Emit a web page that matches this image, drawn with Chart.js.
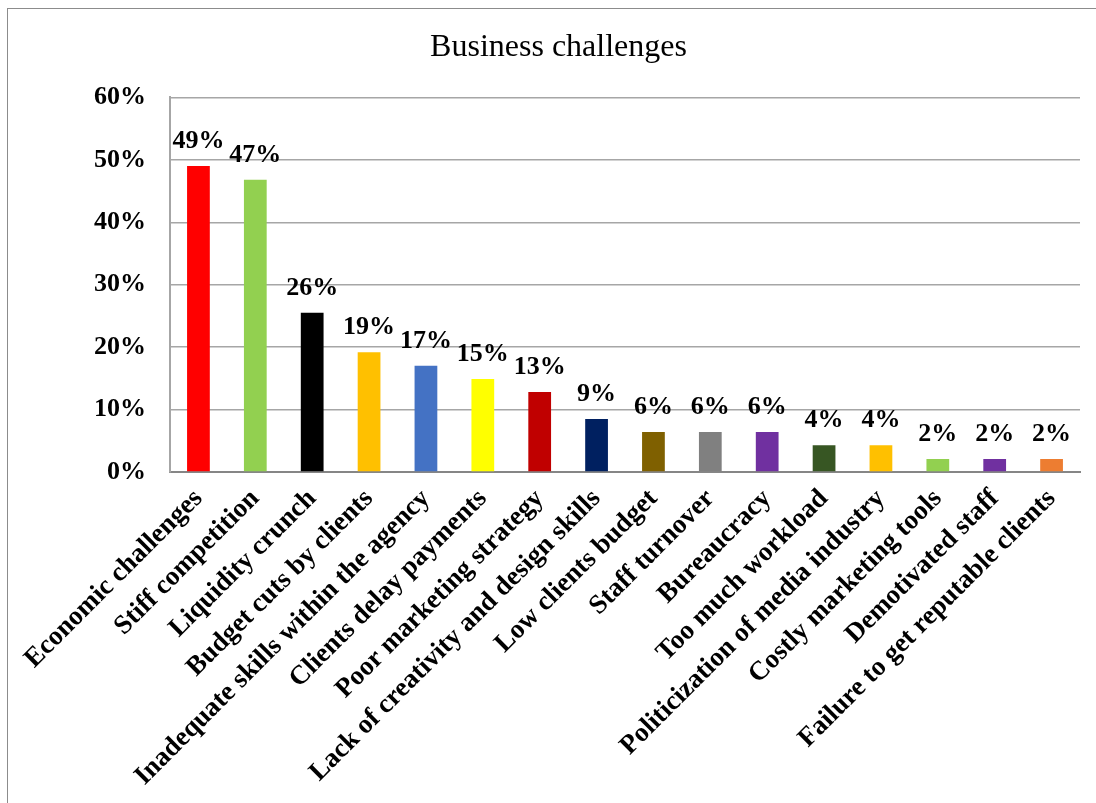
<!DOCTYPE html>
<html>
<head>
<meta charset="utf-8">
<script src="https://cdn.jsdelivr.net/npm/chart.js@4.4.1/dist/chart.umd.min.js"></script>
<style>
  html, body { margin: 0; padding: 0; background: #fff; overflow: hidden; width: 1096px; height: 803px; }
  #frame { position: absolute; left: 7px; top: 8px; width: 1103px; height: 795px; border-top: 1px solid #8c8c8c; border-left: 1px solid #8c8c8c; box-sizing: border-box; }
  #wrap { position: absolute; left: 7px; top: 8px; width: 1103px; height: 795px; }
</style>
</head>
<body>
<div id="frame"></div>
<div id="wrap"><canvas id="c" width="1103" height="795"></canvas></div>
<script>
const categories = [
  "Economic challenges", "Stiff competition", "Liquidity crunch", "Budget cuts by clients",
  "Inadequate skills within the agency", "Clients delay payments", "Poor marketing strategy",
  "Lack of creativity and design skills", "Low clients budget", "Staff turnover", "Bureaucracy",
  "Too much workload", "Politicization of media industry", "Costly marketing tools",
  "Demotivated staff", "Failure to get reputable clients"
];
const values = [49.0, 46.8, 25.5, 19.2, 17.0, 14.9, 12.8, 8.5, 6.4, 6.4, 6.4, 4.3, 4.3, 2.1, 2.1, 2.1];
const barColors = [
  "#FF0000", "#92D050", "#000000", "#FFC000", "#4472C4", "#FFFF00", "#C00000", "#002060",
  "#7F6000", "#808080", "#7030A0", "#375623", "#FFC000", "#92D050", "#7030A0", "#ED7D31"
];
const yTicks = [0, 10, 20, 30, 40, 50, 60];
const titleText = "Business challenges";

const SERIF = "'Liberation Serif', 'Times New Roman', serif";

const dataLabels = {
  id: 'dataLabels',
  afterDatasetsDraw(chart) {
    const ctx = chart.ctx;
    const meta = chart.getDatasetMeta(0);
    ctx.save();
    ctx.font = "bold 26px " + SERIF;
    ctx.fillStyle = "#000";
    ctx.textAlign = "center";
    ctx.textBaseline = "alphabetic";
    meta.data.forEach((bar, i) => {
      ctx.fillText(Math.round(values[i]) + "%", bar.x, bar.y - 18);
    });
    ctx.restore();
  }
};

new Chart(document.getElementById('c'), {
  type: 'bar',
  data: {
    labels: categories,
    datasets: [{
      data: values,
      backgroundColor: barColors,
      borderWidth: 0,
      barPercentage: 0.4,
      categoryPercentage: 1.0
    }]
  },
  options: {
    responsive: false,
    animation: false,
    layout: { padding: { left: 30, right: 30, top: 0, bottom: 0 } },
    plugins: {
      legend: { display: false },
      tooltip: { enabled: false },
      title: {
        display: true,
        text: titleText,
        color: "#000",
        font: { family: SERIF, size: 32, weight: 'normal', lineHeight: 1.2 },
        padding: { top: 20, bottom: 31 }
      }
    },
    scales: {
      x: {
        grid: { display: false, drawTicks: false },
        border: { display: true, color: "#868686", width: 2 },
        ticks: {
          color: "#000",
          font: { family: SERIF, size: 27, weight: 'bold' },
          minRotation: 45, maxRotation: 45,
          autoSkip: false,
          padding: 11
        },
        afterFit(scale) { scale.height = 331; }
      },
      y: {
        min: 0, max: 60,
        afterBuildTicks(scale) { scale.ticks = yTicks.map(v => ({ value: v })); },
        grid: { color: "#a6a6a6", lineWidth: 1.5, drawTicks: false },
        border: { display: true, color: "#a6a6a6", width: 2 },
        ticks: {
          color: "#000",
          font: { family: SERIF, size: 26, weight: 'bold' },
          padding: 24,
          callback: (v) => v + "%"
        },
        afterFit(scale) { scale.width = 133; }
      }
    }
  },
  plugins: [dataLabels]
});
</script>
</body>
</html>
